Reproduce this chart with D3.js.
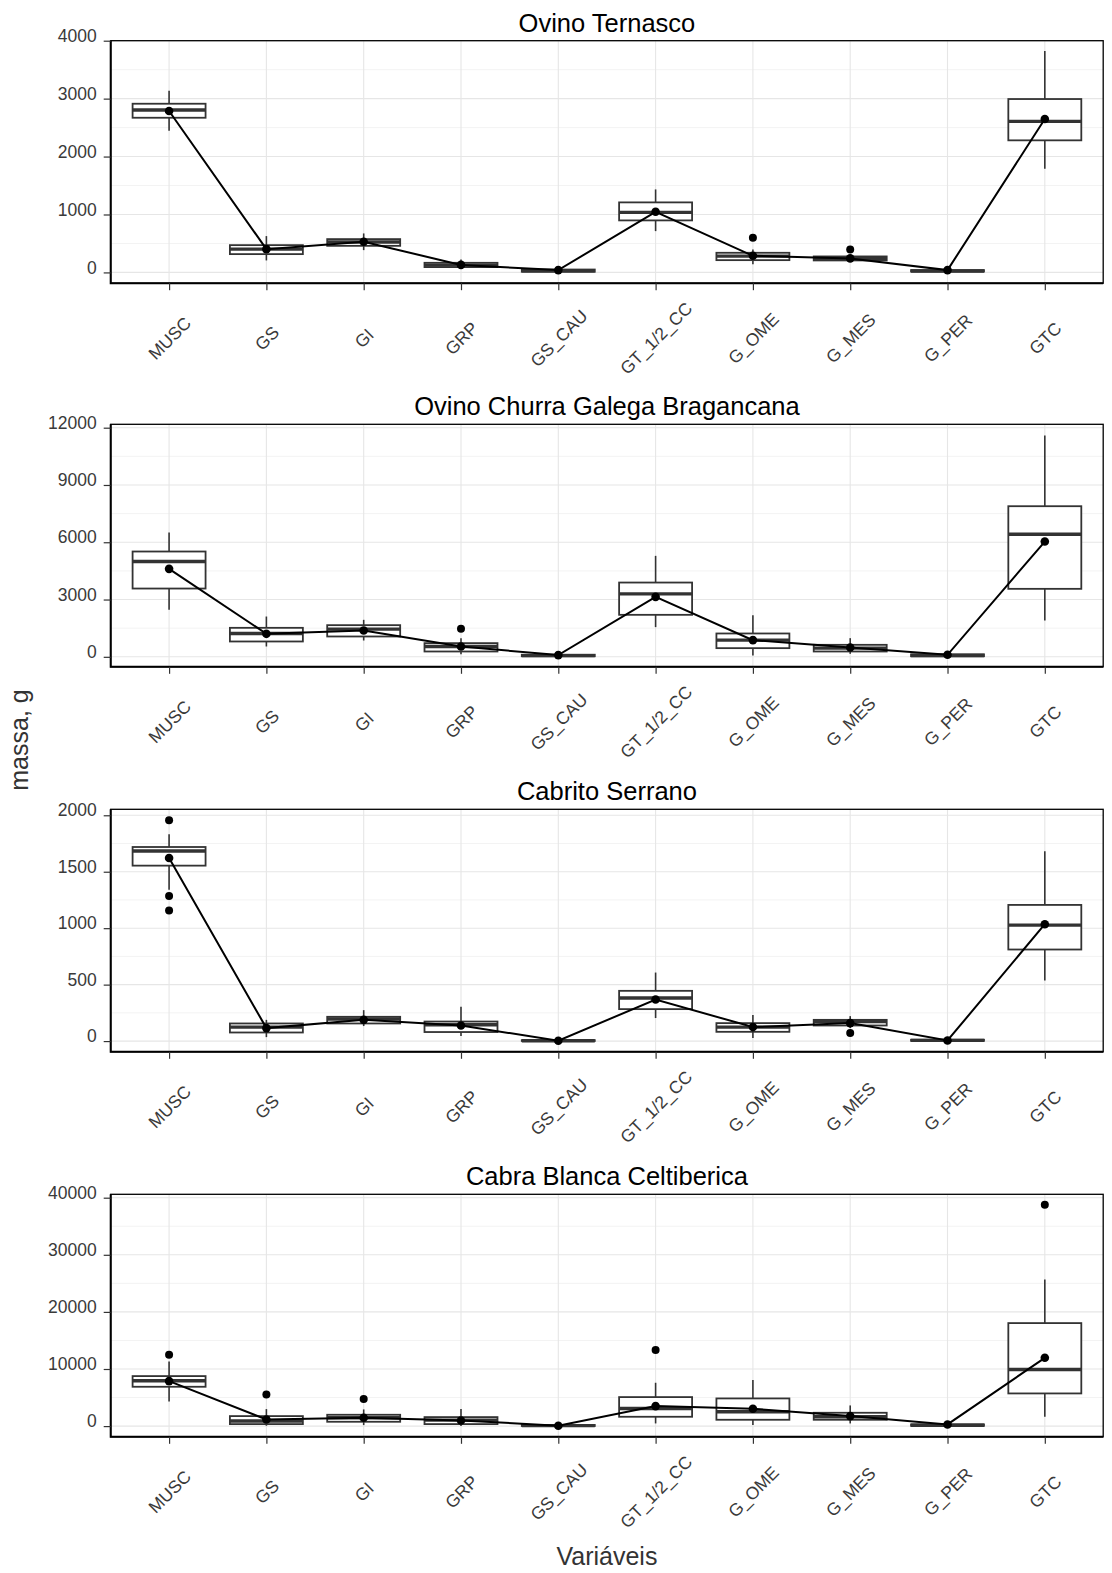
<!DOCTYPE html>
<html>
<head>
<meta charset="utf-8">
<script src="https://cdn.jsdelivr.net/npm/d3@7"></script>
<style>
  body { margin: 0; background: #fff; }
  svg { display: block; font-family: "Liberation Sans", Arial, Helvetica, sans-serif; }
</style>
</head>
<body>
<svg id="chart" width="1112" height="1573"></svg>
<script>
// ---------- DATA ----------
const categories = ["MUSC", "GS", "GI", "GRP", "GS_CAU", "GT_1/2_CC", "G_OME", "G_MES", "G_PER", "GTC"];
const panelTitles = ["Ovino Ternasco", "Ovino Churra Galega Bragancana", "Cabrito Serrano", "Cabra Blanca Celtiberica"];

// box stats per category: [whisker low, Q1, median, Q3, whisker high]
const ternascoBoxes = [
  [2446, 2670, 2803, 2912, 3137],
  [207, 316, 402, 471, 627],
  [385, 459, 525, 575, 673],
  [63, 92, 126, 166, 224],
  [0, 12, 28, 50, 70],
  [713, 898, 1036, 1209, 1433],
  [143, 212, 282, 339, 397],
  [183, 207, 242, 276, 293],
  [5, 15, 25, 40, 50],
  [1790, 2280, 2608, 2993, 3822]
];
const ternascoMeans = [2786, 402, 529, 130, 40, 1047, 287, 242, 40, 2648];
const ternascoOutliers = [["G_OME", 598], ["G_MES", 397]];

const churraBoxes = [
  [2461, 3576, 4990, 5515, 6508],
  [541, 803, 1222, 1518, 2110],
  [855, 1065, 1449, 1658, 1937],
  [140, 279, 541, 716, 977],
  [0, 30, 60, 110, 150],
  [1555, 2199, 3298, 3890, 5288],
  [70, 454, 873, 1222, 2181],
  [157, 279, 454, 628, 977],
  [10, 30, 70, 130, 170],
  [1902, 3560, 6422, 7888, 11588]
];
const churraMeans = [4607, 1204, 1379, 541, 90, 3141, 873, 489, 105, 6038];
const churraOutliers = [["GRP", 1466]];

const cabritoBoxes = [
  [1340, 1554, 1684, 1719, 1832],
  [35, 76, 124, 156, 188],
  [133, 156, 195, 215, 274],
  [44, 80, 144, 173, 304],
  [0, 1, 3, 8, 15],
  [204, 283, 381, 445, 607],
  [27, 82, 124, 159, 230],
  [115, 138, 173, 188, 221],
  [0, 2, 6, 12, 18],
  [536, 811, 1027, 1206, 1681]
];
const cabritoMeans = [1622, 115, 188, 138, 3, 368, 124, 159, 5, 1035];
const cabritoOutliers = [["MUSC", 1956], ["MUSC", 1286], ["MUSC", 1156], ["G_MES", 71]];

const cabraBoxes = [
  [4326, 6889, 7939, 8757, 11331],
  [58, 350, 900, 1751, 2977],
  [175, 759, 1459, 1984, 2919],
  [0, 350, 1051, 1576, 2977],
  [0, 20, 80, 200, 350],
  [467, 1634, 3093, 5079, 7589],
  [175, 1109, 2510, 4845, 8056],
  [467, 1109, 1634, 2335, 3620],
  [0, 50, 150, 300, 500],
  [1634, 5721, 9924, 18039, 25686]
];
const cabraMeans = [7881, 1168, 1459, 993, 58, 3503, 3036, 1751, 292, 11961];
const cabraOutliers = [["MUSC", 12487], ["GS", 5546], ["GI", 4729], ["GT_1/2_CC", 13310], ["GTC", 38757]];

// y tick labels per panel
const ternascoTicks = [0, 1000, 2000, 3000, 4000];
const churraTicks = [0, 3000, 6000, 9000, 12000];
const cabritoTicks = [0, 500, 1000, 1500, 2000];
const cabraTicks = [0, 10000, 20000, 30000, 40000];

const xAxisTitle = "Variáveis";
const yAxisTitle = "massa, g";

// ---------- LAYOUT ----------
const panels = [
  { title: panelTitles[0], boxes: ternascoBoxes, means: ternascoMeans, outliers: ternascoOutliers, ticks: ternascoTicks, domain: [-186, 4000], top: 40.7 },
  { title: panelTitles[1], boxes: churraBoxes, means: churraMeans, outliers: churraOutliers, ticks: churraTicks, domain: [-523, 12178], top: 424.3 },
  { title: panelTitles[2], boxes: cabritoBoxes, means: cabritoMeans, outliers: cabritoOutliers, ticks: cabritoTicks, domain: [-95, 2053], top: 809.3 },
  { title: panelTitles[3], boxes: cabraBoxes, means: cabraMeans, outliers: cabraOutliers, ticks: cabraTicks, domain: [-1874, 40595], top: 1194.3 }
];
const plotLeft = 110.7, plotRight = 1103.2, plotH = 242.5;
const boxStroke = "#333333";

const svg = d3.select("#chart");
const x = d3.scalePoint().domain(categories).range([plotLeft, plotRight]).padding(0.6);
const boxW = x.step() * 0.75;

panels.forEach(p => {
  const top = p.top, bottom = p.top + plotH;
  const y = d3.scaleLinear().domain(p.domain).range([bottom, top]);
  const g = svg.append("g");

  // minor grid
  const step = p.ticks[1] - p.ticks[0];
  const minor = [];
  for (let v = p.ticks[0] - step / 2; v <= p.domain[1]; v += step) {
    if (v >= p.domain[0]) minor.push(v);
  }
  g.selectAll(".minor").data(minor).join("line")
    .attr("x1", plotLeft).attr("x2", plotRight)
    .attr("y1", d => y(d)).attr("y2", d => y(d))
    .attr("stroke", "#f3f3f3").attr("stroke-width", 1);
  // major grid
  g.selectAll(".major").data(p.ticks).join("line")
    .attr("x1", plotLeft).attr("x2", plotRight)
    .attr("y1", d => y(d)).attr("y2", d => y(d))
    .attr("stroke", "#e6e6e6").attr("stroke-width", 1.1);
  g.selectAll(".vgrid").data(categories).join("line")
    .attr("x1", d => x(d)).attr("x2", d => x(d))
    .attr("y1", top).attr("y2", bottom)
    .attr("stroke", "#e6e6e6").attr("stroke-width", 1.1);

  // boxes
  const bx = g.selectAll(".box").data(p.boxes.map((b, i) => ({ cat: categories[i], b })))
    .join("g");
  bx.append("line")
    .attr("x1", d => x(d.cat)).attr("x2", d => x(d.cat))
    .attr("y1", d => y(d.b[0])).attr("y2", d => y(d.b[1]))
    .attr("stroke", boxStroke).attr("stroke-width", 1.6);
  bx.append("line")
    .attr("x1", d => x(d.cat)).attr("x2", d => x(d.cat))
    .attr("y1", d => y(d.b[3])).attr("y2", d => y(d.b[4]))
    .attr("stroke", boxStroke).attr("stroke-width", 1.6);
  bx.append("rect")
    .attr("x", d => x(d.cat) - boxW / 2).attr("width", boxW)
    .attr("y", d => y(d.b[3])).attr("height", d => Math.max(0, y(d.b[1]) - y(d.b[3])))
    .attr("fill", "#fff").attr("stroke", boxStroke).attr("stroke-width", 1.8);
  bx.append("line")
    .attr("x1", d => x(d.cat) - boxW / 2).attr("x2", d => x(d.cat) + boxW / 2)
    .attr("y1", d => y(d.b[2])).attr("y2", d => y(d.b[2]))
    .attr("stroke", boxStroke).attr("stroke-width", 3.4);

  // outliers
  g.selectAll(".out").data(p.outliers).join("circle")
    .attr("cx", d => x(d[0])).attr("cy", d => y(d[1]))
    .attr("r", 4).attr("fill", "#000");

  // mean line and points
  const lineGen = d3.line().x((d, i) => x(categories[i])).y(d => y(d));
  g.append("path").datum(p.means).attr("d", lineGen)
    .attr("fill", "none").attr("stroke", "#000").attr("stroke-width", 2);
  g.selectAll(".mean").data(p.means).join("circle")
    .attr("cx", (d, i) => x(categories[i])).attr("cy", d => y(d))
    .attr("r", 4.3).attr("fill", "#000");

  // border
  g.append("rect").attr("x", plotLeft).attr("y", top)
    .attr("width", plotRight - plotLeft).attr("height", plotH)
    .attr("fill", "none").attr("stroke", "#000").attr("stroke-width", 1.3);
  g.append("path")
    .attr("d", `M${plotLeft},${top}V${bottom}H${plotRight}`)
    .attr("fill", "none").attr("stroke", "#000").attr("stroke-width", 2);

  // y axis
  const ya = g.append("g").attr("transform", `translate(${plotLeft},0)`)
    .call(d3.axisLeft(y).tickValues(p.ticks).tickSize(7).tickPadding(7).tickFormat(d3.format("d")));
  ya.select(".domain").remove();
  ya.selectAll(".tick line").attr("stroke", "#333").attr("stroke-width", 1.2);
  ya.selectAll(".tick text").attr("y", -5).attr("font-size", 17.5).attr("fill", "#3a3a3a")
    .attr("font-family", "Liberation Sans, Arial, sans-serif");

  // x axis
  const xa = g.append("g").attr("transform", `translate(0,${bottom})`)
    .call(d3.axisBottom(x).tickSize(7));
  xa.select(".domain").remove();
  xa.selectAll(".tick line").attr("stroke", "#333").attr("stroke-width", 1.2);
  xa.selectAll(".tick text")
    .attr("y", null).attr("dy", "0.35em")
    .attr("transform", "translate(0,55) rotate(-45)")
    .attr("text-anchor", "middle")
    .attr("font-size", 17.5).attr("fill", "#3a3a3a")
    .attr("font-family", "Liberation Sans, Arial, sans-serif");

  // title
  g.append("text").attr("x", (plotLeft + plotRight) / 2).attr("y", top - 9)
    .attr("text-anchor", "middle").attr("font-size", 25.5).attr("fill", "#000")
    .text(p.title);
});

// axis titles
svg.append("text").attr("x", (plotLeft + plotRight) / 2).attr("y", 1565)
  .attr("text-anchor", "middle").attr("font-size", 25).attr("fill", "#333")
  .text(xAxisTitle);
svg.append("text").attr("transform", "translate(28,740) rotate(-90)")
  .attr("text-anchor", "middle").attr("font-size", 25).attr("fill", "#333")
  .text(yAxisTitle);
</script>
</body>
</html>
